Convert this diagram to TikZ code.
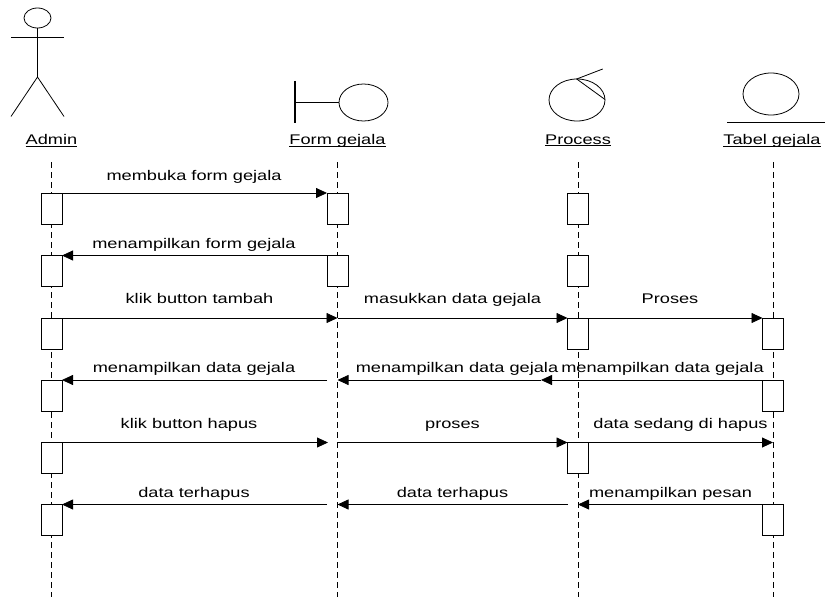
\documentclass[tikz,border=0pt]{standalone}
\usepackage{fontspec}
\setmainfont[FakeStretch=1.3]{Liberation Sans}
\usetikzlibrary{arrows.meta}
\newcommand{\objname}[1]{\underline{\smash{#1}}}
\tikzset{
    lifeline/.style={line width=0.8pt, dash pattern=on 6pt off 4pt},
    activation/.style={draw, fill=white, line width=0.8pt, minimum width=21pt, minimum height=31pt, inner sep=0pt, outer sep=0pt, anchor=north},
    message/.style={line width=0.8pt, -{Triangle[length=11pt,width=10pt]}},
    msglabel/.style={font=\fontsize{14}{16}\selectfont, anchor=base, inner sep=0pt},
    objlabel/.style={msglabel},
    symbol/.style={line width=0.8pt}
}
\begin{document}
\begin{tikzpicture}[x=1pt, y=-1pt]
            \useasboundingbox (0,0) rectangle (826,599);
            % object symbols
            \draw[symbol] (37.5,18) ellipse (13.5 and 10);
            \draw[symbol] (37.5,28) -- (37.5,77);
            \draw[symbol] (11,37.5) -- (64,37.5);
            \draw[symbol] (11,116.5) -- (37.5,77) -- (64,116.5);
            \draw[line width=2pt] (295,81) -- (295,123);
            \draw[symbol] (295,102) -- (339,102);
            \draw[symbol] (363.5,102.5) ellipse (24.5 and 18.5);
            \draw[symbol] (577,100) ellipse (28 and 21);
            \draw[symbol] (602.7,69) -- (576.7,79) -- (605,99.5);
            \draw[symbol] (771,94) ellipse (28 and 21);
            \draw[symbol] (727,122.5) -- (825,122.5);
            \node[objlabel] (admin) at (51.5,144.5) {\objname{Admin}};
            \node[objlabel] (form) at (337.5,144.5) {\objname{Form gejala}};
            \node[objlabel] (process) at (578,144) {\objname{Process}};
            \node[objlabel] (tabel) at (772,144.5) {\objname{Tabel gejala}};
            % lifelines
            \coordinate (adminTop) at (51.5,162);
            \coordinate (adminEnd) at (51.5,597);
            \coordinate (formTop) at (337.5,162);
            \coordinate (formEnd) at (337.5,597);
            \coordinate (processTop) at (578,162);
            \coordinate (processEnd) at (578,597);
            \coordinate (tabelTop) at (773,162);
            \coordinate (tabelEnd) at (773,597);
            \draw[lifeline] (adminTop) -- (adminEnd);
            \draw[lifeline] (formTop) -- (formEnd);
            \draw[lifeline] (processTop) -- (processEnd);
            \draw[lifeline] (tabelTop) -- (tabelEnd);
            % activations
            \node[activation] (adminA) at (51.5,193) {};
            \node[activation] (adminB) at (51.5,255.5) {};
            \node[activation] (adminC) at (51.5,318) {};
            \node[activation] (adminD) at (51.5,380) {};
            \node[activation] (adminE) at (51.5,442.5) {};
            \node[activation] (adminF) at (51.5,504.5) {};
            \node[activation] (formA) at (337.5,193) {};
            \node[activation] (formB) at (337.5,255.5) {};
            \node[activation] (processA) at (578,193) {};
            \node[activation] (processB) at (578,255.5) {};
            \node[activation] (processC) at (578,318) {};
            \node[activation] (processE) at (578,442.5) {};
            \node[activation] (tabelC) at (773,318) {};
            \node[activation] (tabelD) at (773,380) {};
            \node[activation] (tabelF) at (773,504.5) {};
            % free ends of the messages
            \coordinate (formC) at (337.5,318);
            \coordinate (formDleft) at (327,380);
            \coordinate (formD) at (337.5,380);
            \coordinate (midD) at (541,380);
            \coordinate (formEleft) at (328,442.5);
            \coordinate (formE) at (337.5,442.5);
            \coordinate (tabelE) at (773,442.5);
            \coordinate (formFleft) at (327,504.5);
            \coordinate (formF) at (337.5,504.5);
            \coordinate (processFleft) at (568,504.5);
            \coordinate (processF) at (578,504.5);
            % messages
            \draw[message] (adminA.north east) -- (formA.north west);
            \draw[message] (formB.north west) -- (adminB.north east);
            \draw[message] (adminC.north east) -- (formC);
            \draw[message] (formC) -- (processC.north west);
            \draw[message] (processC.north east) -- (tabelC.north west);
            \draw[message] (formDleft) -- (adminD.north east);
            \draw[message] (midD) -- (formD);
            \draw[message] (tabelD.north west) -- (midD);
            \draw[message] (adminE.north east) -- (formEleft);
            \draw[message] (formE) -- (processE.north west);
            \draw[message] (processE.north east) -- (tabelE);
            \draw[message] (formFleft) -- (adminF.north east);
            \draw[message] (processFleft) -- (formF);
            \draw[message] (tabelF.north west) -- (processF);
            % message labels
            \node[msglabel] (m1) at (194,180) {membuka form gejala};
            \node[msglabel] (m2) at (194,248.5) {menampilkan form gejala};
            \node[msglabel] (m3) at (199.5,303) {klik button tambah};
            \node[msglabel] (m4) at (452.5,303) {masukkan data gejala};
            \node[msglabel] (m5) at (670,303) {Proses};
            \node[msglabel] (m6) at (194,372) {menampilkan data gejala};
            \node[msglabel] (m7) at (457,372) {menampilkan data gejala};
            \node[msglabel] (m8) at (662.5,372) {menampilkan data gejala};
            \node[msglabel] (m9) at (189,428.5) {klik button hapus};
            \node[msglabel] (m10) at (452.5,428.5) {proses};
            \node[msglabel] (m11) at (680.5,428.5) {data sedang di hapus};
            \node[msglabel] (m12) at (194,497) {data terhapus};
            \node[msglabel] (m13) at (452.5,497) {data terhapus};
            \node[msglabel] (m14) at (670.5,497) {menampilkan pesan};
        \end{tikzpicture}
\end{document}
